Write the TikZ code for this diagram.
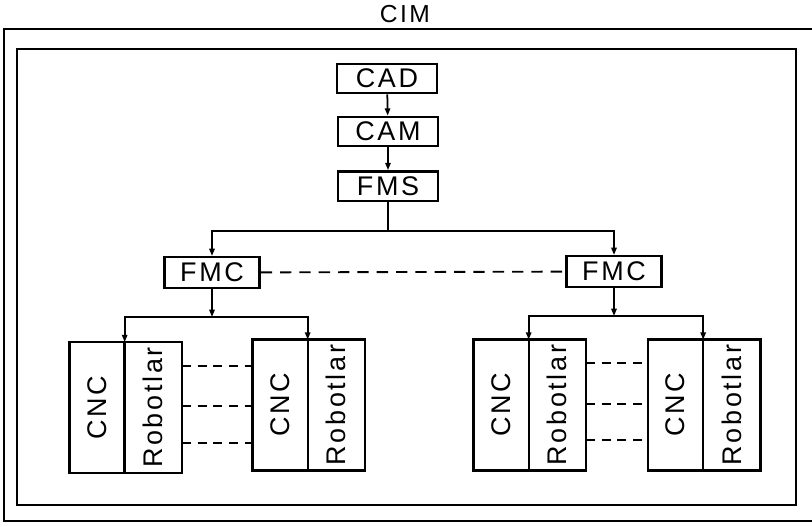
\documentclass[tikz,border=0pt]{standalone}
\usepackage{fontspec}
\setmainfont{Liberation Sans}[LetterSpace=10]
\usepackage{tikz}
\usetikzlibrary{arrows.meta,positioning,calc}

\begin{document}
\begin{tikzpicture}[
  x=0.03cm, y=-0.03cm,
  every node/.style={font=\fontsize{23}{26}\selectfont},
  level/.style={draw, line width=2pt, minimum width=3cm, minimum height=0.88cm, inner sep=0pt},
  cell/.style={draw, line width=2pt, minimum width=2.85cm, minimum height=0.92cm, inner sep=0pt},
  cnc/.style={draw, line width=2pt, minimum width=1.66cm, minimum height=3.92cm, inner sep=0pt, outer sep=0pt},
  robo/.style={cnc, minimum width=1.72cm},
  frame/.style={line width=2.5pt},
  arr/.style={-{Triangle[length=2.2mm,width=1.6mm]}, line width=1.5pt},
  link/.style={line width=1.5pt},
  dashlink/.style={line width=1.6pt, dash pattern=on 0.34cm off 0.24cm},
]
\useasboundingbox (0,0) rectangle (812,526);
% Frames
\node[font=\fontsize{21}{24}\selectfont] (cim) at (405,14) {CIM};
\draw[frame] (812,29) -- (4,29) -- (4,521) -- (812,521);
\draw[frame] (17,49) rectangle (796,505);

% Upper levels
\node[level] (cad) at (387,78.5) {CAD};
\node[level] (cam) at (388,131.5) {CAM};
\node[level] (fms) at (388,186) {FMS};

% Cells
\node[cell] (fmcL) at (212,272.5) {FMC};
\node[cell] (fmcR) at (614,271.5) {FMC};

% Machines, left cell
\node[cnc] (c1) at (97,407.5) {\rotatebox{90}{CNC}};
\node[robo, right=0pt of c1] (r1) {\rotatebox{90}{Robotlar}};
\node[cnc] (c2) at (280,405) {\rotatebox{90}{CNC}};
\node[robo, right=0pt of c2] (r2) {\rotatebox{90}{Robotlar}};
% Machines, right cell
\node[cnc] (c3) at (501,405) {\rotatebox{90}{CNC}};
\node[robo, right=0pt of c3] (r3) {\rotatebox{90}{Robotlar}};
\node[cnc] (c4) at (675.5,405) {\rotatebox{90}{CNC}};
\node[robo, right=0pt of c4] (r4) {\rotatebox{90}{Robotlar}};

% Arrows
\draw[arr] (cad) -- (cam);
\draw[arr] (cam) -- (fms);
\coordinate (split) at ($(fms.south)+(0,29)$);
\draw[link] (fms) -- (split);
\draw[arr] (split) -| (fmcL.north);
\draw[arr] (split) -| (fmcR.north);
\draw[dashlink] (fmcL) -- (fmcR);

\coordinate (busL) at ($(fmcL.south)+(0,28)$);
\coordinate (busR) at ($(fmcR.south)+(0,28)$);
\draw[arr] (fmcL) -- (busL);
\draw[arr] (fmcR) -- (busR);
\draw[arr] (busL) -| (r1.north west);
\draw[arr] (busL) -| (r2.north west);
\draw[arr] (busR) -| (r3.north west);
\draw[arr] (busR) -| (r4.north west);

% Links between machines
\foreach \a/\b in {r1/c2, r3/c4}
  \foreach \f [count=\k] in {0.18,0.49,0.77} {
    \coordinate (d\a\k) at ($(\a.north east)!\f!(\a.south east)$);
    \draw[dashlink, dash pattern=on 0.27cm off 0.2cm] (d\a\k) -- (d\a\k -| \b.west);
  }
\end{tikzpicture}
\end{document}
